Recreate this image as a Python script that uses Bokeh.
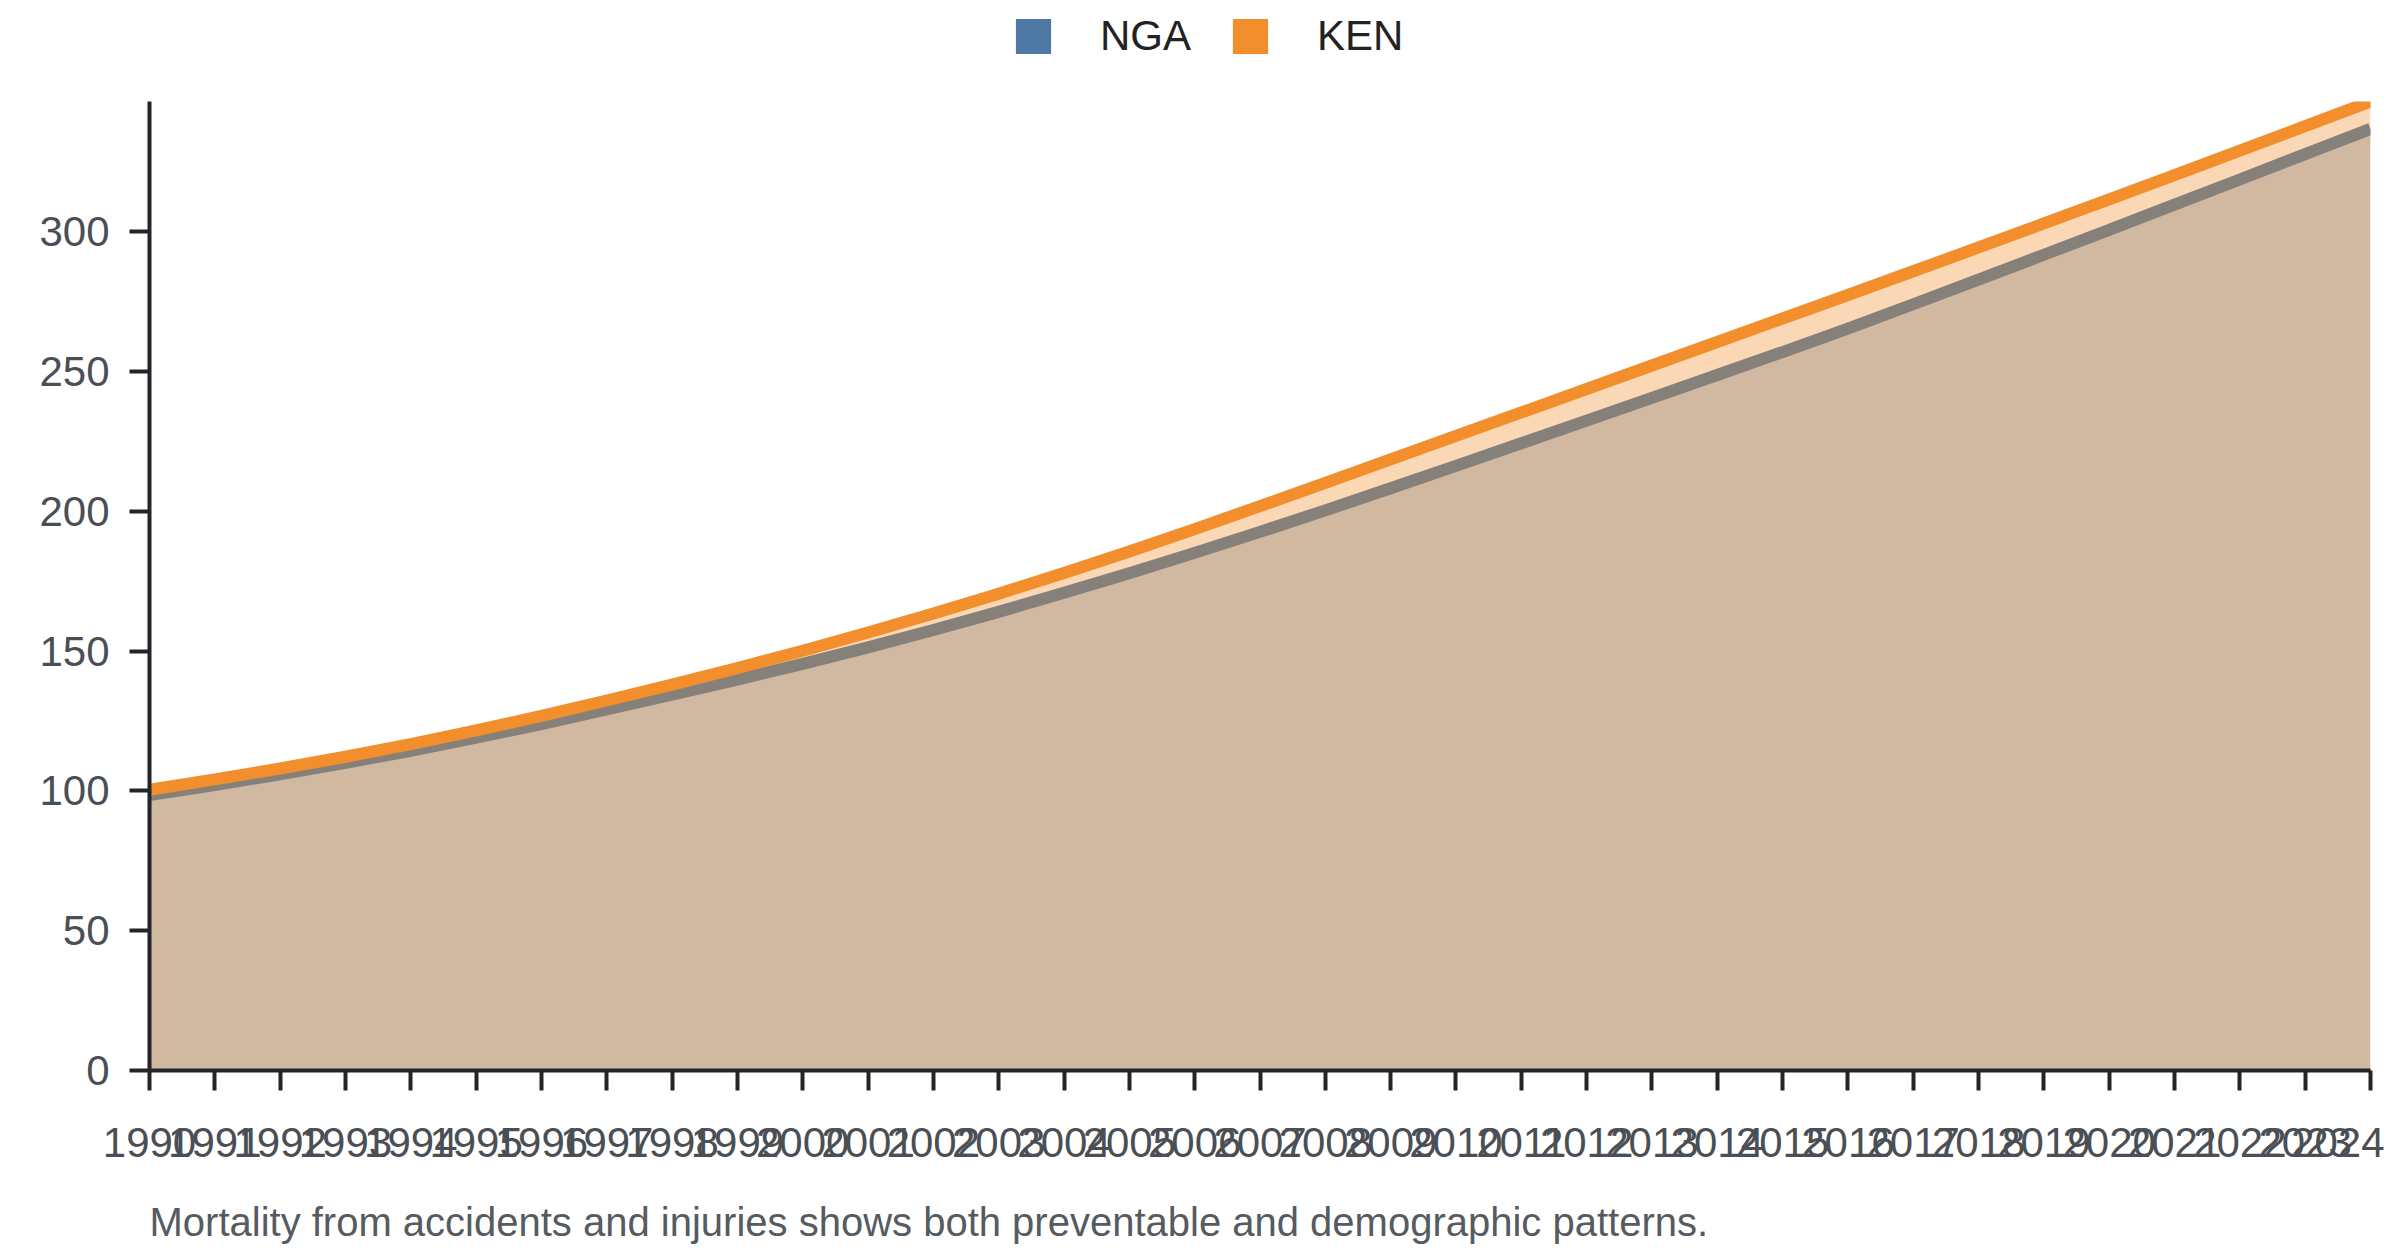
#bokeh area chart - mortality from accidents and injuries

from bokeh.plotting import figure
from bokeh.layouts import column
from bokeh.models import Range1d, Legend, LegendItem, Label, FixedTicker
from bokeh.embed import file_html
from bokeh.resources import INLINE

#data
years = list(range(1990, 2025))
nga = [98.5, 102.1, 105.9, 110.0, 114.3, 119.0, 123.9, 129.1, 134.4, 139.8,
       145.4, 151.3, 157.5, 164.0, 170.8, 177.8, 185.1, 192.6, 200.3, 208.2,
       216.2, 224.3, 232.4, 240.5, 248.7, 256.9, 265.3, 274.0, 282.8, 291.7,
       300.6, 309.6, 318.6, 327.7, 336.7]
ken = [100.4, 104.1, 108.0, 112.2, 116.7, 121.6, 126.8, 132.3, 138.0, 143.9,
       150.1, 156.6, 163.4, 170.5, 177.9, 185.6, 193.6, 201.8, 210.1, 218.5,
       226.9, 235.3, 243.7, 252.1, 260.5, 268.9, 277.3, 285.8, 294.3, 302.9,
       311.5, 320.2, 328.9, 337.7, 346.5]
series_names = ["NGA", "KEN"]
colors = ["#4e79a7", "#f28e2b"]
subtitle = "Mortality from accidents and injuries shows both preventable and demographic patterns."


def strip(h):
    # empty figure used only to hold the legend / the caption
    f = figure(width=2384, height=h, output_backend="svg", toolbar_location=None,
               x_range=Range1d(0, 1), y_range=Range1d(0, 1),
               x_axis_location=None, y_axis_location=None,
               min_border_left=0, min_border_right=0, min_border_top=0,
               min_border_bottom=0)
    f.grid.visible = False
    f.outline_line_color = None
    return f


#legend strip on top
lg = strip(80)
items = []
for name, col in zip(series_names, colors):
    r = lg.varea(x=[0, 1], y1=[0, 0], y2=[0, 0], fill_color=col, fill_alpha=1.0)
    items.append(LegendItem(label=name, renderers=[r]))
legend = Legend(items=items, orientation="horizontal", location=(862, 20),
                glyph_width=44, glyph_height=44, label_standoff=45, spacing=37,
                label_text_font="Liberation Sans", label_text_font_size="42px",
                label_text_color="#222222", border_line_color=None,
                background_fill_alpha=0, padding=0, margin=0)
lg.add_layout(legend)

#main figure
p = figure(width=2384, height=1100, output_backend="svg", toolbar_location=None,
           x_range=Range1d(years[0], years[-1]), y_range=Range1d(0, max(ken)),
           min_border_left=149, min_border_right=14, min_border_top=21,
           min_border_bottom=110)
p.outline_line_color = None
p.xgrid.visible = False
p.ygrid.visible = False

#areas and lines (NGA first, KEN on top)
for vals, col in zip([nga, ken], colors):
    p.varea(x=years, y1=[0] * len(years), y2=vals, fill_color=col, fill_alpha=0.35)
    p.line(years, vals, line_color=col, line_width=12, line_join="round")

#axes
for ax in [p.xaxis[0], p.yaxis[0]]:
    ax.axis_line_width = 4
    ax.axis_line_color = "#22252a"
    ax.major_tick_line_width = 4
    ax.major_tick_line_color = "#22252a"
    ax.major_tick_out = 20
    ax.major_tick_in = 0
    ax.minor_tick_line_color = None
    ax.major_label_text_font = "Liberation Sans"
    ax.major_label_text_font_size = "42px"
    ax.major_label_text_color = "#4a4f55"
p.xaxis.ticker = FixedTicker(ticks=years)
p.xaxis.major_label_standoff = 37
p.yaxis.ticker = FixedTicker(ticks=[0, 50, 100, 150, 200, 250, 300])
p.yaxis.major_label_standoff = 20

#caption strip at the bottom (frames of the column are aligned, x=0 is the y axis)
cap = strip(69)
cap.add_layout(Label(x=0, y=28, x_units="screen", y_units="screen", text=subtitle,
                     text_font="Liberation Sans", text_font_size="40px",
                     text_color="#555b61", text_baseline="middle"))

open("out.html", "w").write(file_html(column(lg, p, cap), INLINE))
